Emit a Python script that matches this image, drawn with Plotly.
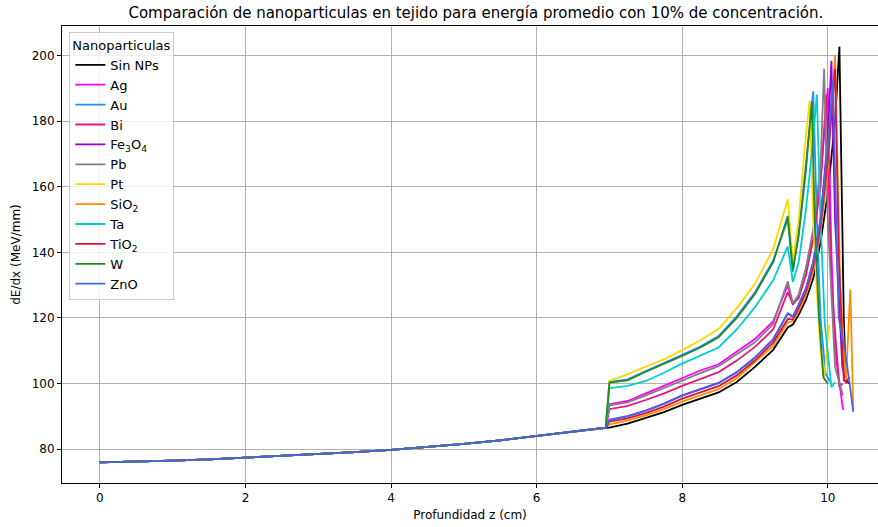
import plotly.graph_objects as go

# Shared depth-dose region (before nanoparticle layer), identical for all series
BASE_Z = [0.0, 0.5, 1.0, 1.5, 2.0, 2.5, 3.0, 3.5, 4.0, 4.5, 5.0, 5.5, 6.0, 6.5, 6.95]
BASE_V = [76.0, 76.2, 76.5, 76.9, 77.4, 77.9, 78.5, 79.1, 79.8, 80.6, 81.6, 82.7, 84.0, 85.2, 86.6]

# Common depth grid inside nanoparticle region (up to the bump at 9.45 cm)
MID_Z = [7.0, 7.25, 7.5, 7.75, 8.0, 8.25, 8.5, 8.75, 9.0, 9.25, 9.45, 9.52]

names = ["Sin NPs", "Ag", "Au", "Bi", "Fe<sub>3</sub>O<sub>4</sub>", "Pb", "Pt",
         "SiO<sub>2</sub>", "Ta", "TiO<sub>2</sub>", "W", "ZnO"]
colors = ["#000000", "#FF00FF", "#1E90FF", "#E8157F", "#9400D3", "#808080", "#FFD700",
          "#FF8C00", "#00CED1", "#DC143C", "#228B22", "#4169E1"]

# values on MID_Z
mid_sin = [86.6, 87.8, 89.5, 91.3, 93.5, 95.4, 97.3, 100.5, 105.1, 110.3, 117.1, 118.0]
mid_ag  = [93.7, 94.7, 97.0, 99.3, 101.8, 104.0, 105.9, 109.8, 113.6, 119.0, 130.0, 124.0]
mid_au  = [100.5, 101.3, 103.8, 106.2, 108.8, 111.3, 114.5, 120.5, 127.8, 137.5, 150.0, 134.0]
mid_bi  = [92.2, 93.2, 95.0, 97.0, 99.3, 101.3, 103.5, 107.0, 111.2, 116.5, 127.9, 124.3]
mid_fe  = [89.0, 90.1, 91.8, 93.9, 96.4, 98.3, 100.2, 103.5, 108.0, 113.5, 121.4, 120.5]
mid_pb  = [93.4, 94.3, 96.4, 98.7, 101.0, 103.2, 105.3, 109.0, 112.6, 118.2, 131.2, 124.5]
mid_pt  = [100.8, 102.8, 105.2, 107.4, 110.2, 113.2, 116.6, 123.0, 130.4, 141.0, 156.2, 137.2]
mid_si  = [87.6, 88.7, 90.3, 92.2, 94.5, 96.5, 98.3, 101.6, 106.4, 111.5, 118.7, 119.0]
mid_ta  = [98.6, 99.3, 100.8, 103.3, 106.1, 108.5, 111.0, 116.5, 123.3, 131.5, 141.8, 131.0]
mid_ti  = [88.4, 89.4, 91.0, 93.0, 95.4, 97.4, 99.2, 102.5, 107.1, 112.5, 119.7, 119.5]
mid_w   = [100.3, 101.0, 103.6, 105.9, 108.4, 111.0, 114.1, 120.0, 127.3, 137.0, 151.1, 134.7]
mid_zn  = [88.9, 90.0, 91.7, 93.8, 96.3, 98.2, 100.1, 103.4, 107.9, 113.4, 121.4, 120.2]

# Bragg-peak region (series specific depths and values)
tail_z_sin = [9.6, 9.7, 9.8, 9.9, 10.0, 10.1, 10.16, 10.22, 10.25, 10.3]
tail_v_sin = [121.0, 125.5, 132.0, 143.0, 158.0, 180.0, 202.7, 120.0, 101.0, 100.0]
tail_z_ag = [9.6, 9.7, 9.8, 9.9, 10.0, 10.05, 10.1, 10.21]
tail_v_ag = [127.0, 135.0, 146.0, 162.0, 190.1, 140.0, 110.0, 92.0]
tail_z_au = [9.6, 9.7, 9.8, 9.85, 9.9, 9.97, 10.05]
tail_v_au = [146.0, 167.0, 189.1, 150.0, 120.0, 103.0, 100.0]
tail_z_bi = [9.6, 9.7, 9.8, 9.9, 9.98, 10.05, 10.16, 10.2]
tail_v_bi = [126.0, 133.0, 144.0, 160.0, 188.0, 130.0, 98.9, 100.0]
tail_z_fe = [9.6, 9.7, 9.8, 9.9, 10.0, 10.05, 10.1, 10.2, 10.26]
tail_v_fe = [124.0, 129.0, 137.0, 150.0, 175.0, 198.4, 150.0, 105.0, 100.0]
tail_z_pb = [9.6, 9.7, 9.8, 9.9, 9.95, 10.0, 10.1, 10.21]
tail_v_pb = [127.0, 135.0, 147.0, 166.0, 196.0, 150.0, 105.0, 96.4]
tail_z_pt = [9.6, 9.68, 9.75, 9.8, 9.85, 9.9, 9.95, 10.02]
tail_v_pt = [150.0, 171.0, 186.3, 150.0, 128.0, 110.0, 101.4, 118.0]
tail_z_si = [9.6, 9.7, 9.8, 9.9, 10.0, 10.1, 10.17, 10.25, 10.31, 10.35]
tail_v_si = [122.0, 127.0, 134.0, 146.0, 165.0, 200.0, 130.0, 101.0, 128.7, 92.0]
tail_z_ta = [9.6, 9.7, 9.78, 9.85, 9.9, 9.96, 10.05, 10.1]
tail_v_ta = [137.0, 153.0, 170.0, 188.1, 150.0, 118.0, 98.9, 100.4]
tail_z_ti = [9.6, 9.7, 9.8, 9.9, 10.0, 10.1, 10.15, 10.22, 10.25, 10.3]
tail_v_ti = [123.0, 128.0, 135.5, 148.0, 168.0, 196.0, 140.0, 101.0, 100.5, 102.0]
tail_z_w = [9.6, 9.7, 9.78, 9.82, 9.88, 9.94, 10.0]
tail_v_w = [145.0, 165.0, 186.0, 150.0, 120.0, 101.9, 100.0]
tail_z_zn = [9.6, 9.7, 9.8, 9.9, 10.0, 10.07, 10.15, 10.24, 10.3, 10.35]
tail_v_zn = [124.0, 129.0, 137.0, 150.0, 172.0, 192.6, 120.0, 109.5, 100.0, 91.4]

mids = [mid_sin, mid_ag, mid_au, mid_bi, mid_fe, mid_pb, mid_pt, mid_si, mid_ta, mid_ti, mid_w, mid_zn]
tails_z = [tail_z_sin, tail_z_ag, tail_z_au, tail_z_bi, tail_z_fe, tail_z_pb, tail_z_pt,
           tail_z_si, tail_z_ta, tail_z_ti, tail_z_w, tail_z_zn]
tails_v = [tail_v_sin, tail_v_ag, tail_v_au, tail_v_bi, tail_v_fe, tail_v_pb, tail_v_pt,
           tail_v_si, tail_v_ta, tail_v_ti, tail_v_w, tail_v_zn]

fig = go.Figure()
for name, col, mv, tz, tv in zip(names, colors, mids, tails_z, tails_v):
    fig.add_trace(go.Scatter(
        x=BASE_Z + MID_Z + tz,
        y=BASE_V + mv + tv,
        mode="lines", name=name,
        line=dict(color=col, width=1.8),
    ))

font = "DejaVu Sans, sans-serif"
fig.update_layout(
    width=878, height=527,
    margin=dict(l=62, r=0, t=26, b=44),
    paper_bgcolor="white", plot_bgcolor="white",
    font=dict(family=font, size=12, color="black"),
    title=dict(text="Comparación de nanoparticulas en tejido para energía promedio con 10% de concentración.",
               x=0.542, xanchor="center", y=0.975, yanchor="middle",
               font=dict(size=15, family=font, color="black")),
    showlegend=True,
    legend=dict(
        title=dict(text="Nanoparticulas", font=dict(size=13)),
        x=0.009, y=0.987, xanchor="left", yanchor="top",
        bgcolor="rgba(255,255,255,0.8)", bordercolor="#cccccc", borderwidth=1,
        font=dict(size=13, family=font), tracegroupgap=0,
    ),
)
fig.update_xaxes(
    range=[-0.52, 10.69], tickvals=[0, 2, 4, 6, 8, 10],
    showgrid=True, gridcolor="#b0b0b0", gridwidth=0.8,
    showline=True, linecolor="black", linewidth=1, mirror=True,
    ticks="outside", ticklen=4, tickcolor="black", zeroline=False,
    title=dict(text="Profundidad z (cm)", font=dict(size=12), standoff=6),
    tickfont=dict(size=12),
)
fig.update_yaxes(
    range=[69.7, 209.0], tickvals=[80, 100, 120, 140, 160, 180, 200],
    showgrid=True, gridcolor="#b0b0b0", gridwidth=0.8,
    showline=True, linecolor="black", linewidth=1, mirror=False,
    ticks="outside", ticklen=4, tickcolor="black", zeroline=False,
    title=dict(text="dE/dx (MeV/mm)", font=dict(size=12), standoff=8),
    tickfont=dict(size=12),
)
fig.write_html("out.html")
